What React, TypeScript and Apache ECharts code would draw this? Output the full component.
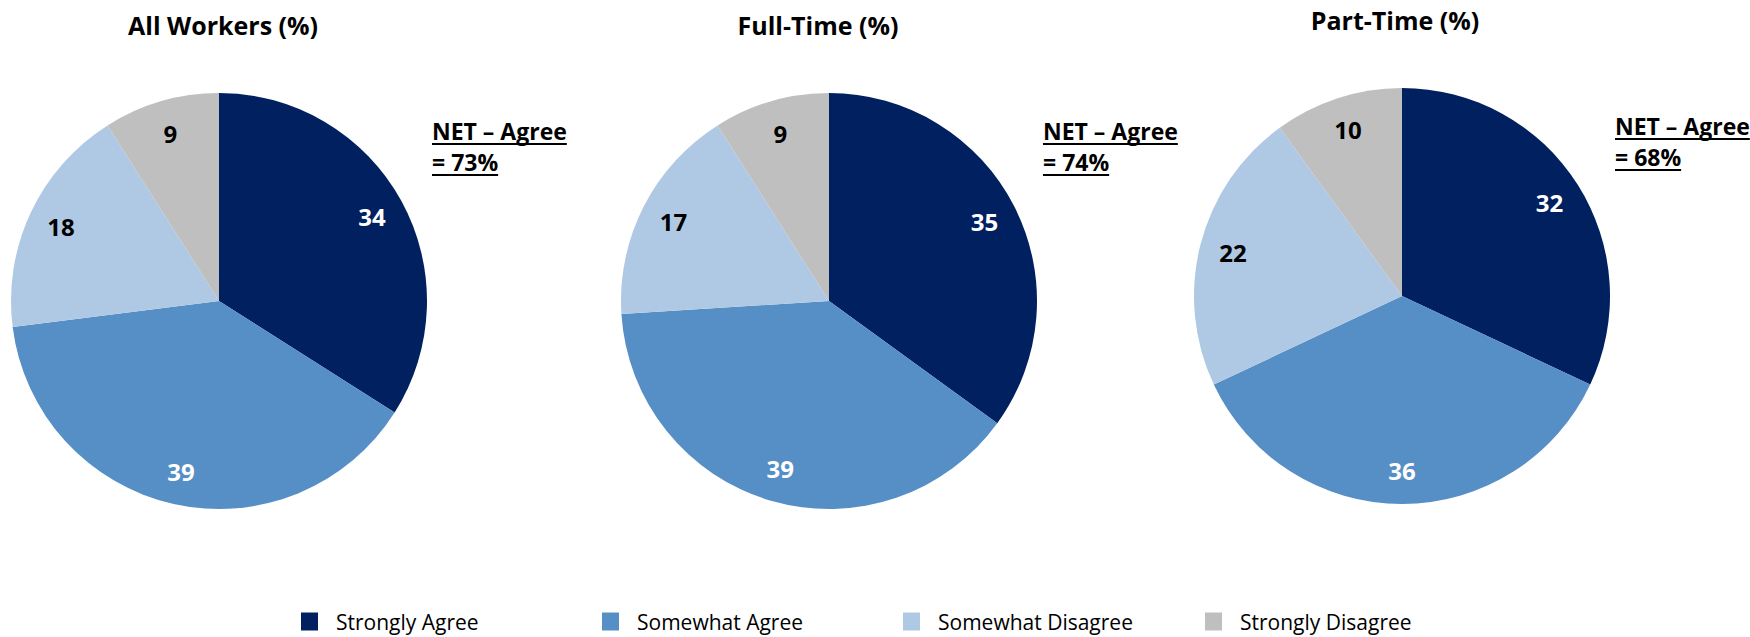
import React, { useEffect, useRef } from "react";
import * as echarts from "echarts";

const categories = ["Strongly Agree", "Somewhat Agree", "Somewhat Disagree", "Strongly Disagree"];
const groupTitles = ["All Workers (%)", "Full-Time (%)", "Part-Time (%)"];
const allWorkers = [34, 39, 18, 9];
const fullTime = [35, 39, 17, 9];
const partTime = [32, 36, 22, 10];
const netAgree = [73, 74, 68];

const colors = ["#002060", "#568EC6", "#AFC9E4", "#BFBFBF"];
const labelColors = ["#ffffff", "#ffffff", "#000000", "#000000"];

const FONT = '"Open Sans", "Noto Sans", sans-serif';

export default function App() {
  const ref = useRef<HTMLDivElement>(null);

  useEffect(() => {
    if (!ref.current) return;
    const chart = echarts.init(ref.current, null, { renderer: "svg" });

    const seriesData = [allWorkers, fullTime, partTime];
    const centers = [
      [219, 301],
      [829, 301],
      [1402, 296],
    ];
    const R = 208;
    const titlePos = [
      [223, 25],
      [818, 25],
      [1395, 20],
    ];
    const netPos = [
      [432, 131],
      [1043, 131],
      [1615, 126],
    ];
    const legendLefts = [301, 602, 903, 1205];

    const canvas = document.createElement("canvas");
    const ctx = canvas.getContext("2d")!;
    ctx.font = 'bold 23px "Open Sans"';
    const measure = (t: string) => ctx.measureText(t).width;

    const series: any[] = [];
    seriesData.forEach((vals, g) => {
      series.push({
        type: "pie",
        name: groupTitles[g],
        radius: R,
        center: centers[g],
        startAngle: 90,
        clockwise: true,
        silent: true,
        label: { show: false },
        labelLine: { show: false },
        data: vals.map((v, i) => ({
          name: categories[i],
          value: v,
          itemStyle: { color: colors[i] },
        })),
      });
    });
    seriesData.forEach((vals, g) => {
      series.push({
        type: "pie",
        name: groupTitles[g] + " labels",
        radius: [R * 0.65, R],
        center: centers[g],
        startAngle: 90,
        clockwise: true,
        silent: true,
        legendHoverLink: false,
        itemStyle: { color: "rgba(0,0,0,0)" },
        label: {
          show: true,
          position: "inside",
          formatter: "{c}",
          fontFamily: FONT,
          fontSize: 24,
          fontWeight: "bold",
        },
        labelLine: { show: false },
        data: vals.map((v, i) => ({
          name: categories[i],
          value: v,
          itemStyle: { color: "rgba(0,0,0,0)" },
          label: { color: labelColors[i] },
        })),
      });
    });

    const graphics: any[] = [];
    groupTitles.forEach((t, g) => {
      graphics.push({
        type: "text",
        x: titlePos[g][0],
        y: titlePos[g][1],
        style: {
          text: t,
          fontFamily: FONT,
          fontSize: 25,
          fontWeight: "bold",
          fill: "#000",
          textAlign: "center",
          textVerticalAlign: "middle",
        },
      });
    });
    netAgree.forEach((n, g) => {
      const l1 = "NET \u2013 Agree";
      const l2 = "= " + n + "%";
      const [x, y] = netPos[g];
      graphics.push({
        type: "text",
        x,
        y,
        style: { text: l1, fontFamily: FONT, fontSize: 23, fontWeight: "bold", fill: "#000", textAlign: "left", textVerticalAlign: "middle" },
      });
      graphics.push({
        type: "text",
        x,
        y: y + 31,
        style: { text: l2, fontFamily: FONT, fontSize: 23, fontWeight: "bold", fill: "#000", textAlign: "left", textVerticalAlign: "middle" },
      });
      graphics.push({
        type: "line",
        shape: { x1: x, y1: y + 13, x2: x + measure(l1), y2: y + 13 },
        style: { stroke: "#000", lineWidth: 2 },
      });
      graphics.push({
        type: "line",
        shape: { x1: x, y1: y + 44, x2: x + measure(l2), y2: y + 44 },
        style: { stroke: "#000", lineWidth: 2 },
      });
    });

    chart.setOption({
      animation: false,
      backgroundColor: "#ffffff",
      legend: categories.map((c, i) => ({
        data: [{ name: c, itemStyle: { color: colors[i] } }],
        left: legendLefts[i],
        top: 611,
        padding: 0,
        itemWidth: 17,
        itemHeight: 18,
        icon: "rect",
        selectedMode: false,
        textStyle: {
          fontFamily: FONT,
          fontSize: 21,
          color: "#000",
          padding: [0, 0, 0, 13],
        },
      })),
      graphic: graphics,
      series,
    });

    return () => chart.dispose();
  }, []);

  return (
    <div
      ref={ref}
      style={{ position: "absolute", left: 0, top: 0, width: 1750, height: 637 }}
    />
  );
}
